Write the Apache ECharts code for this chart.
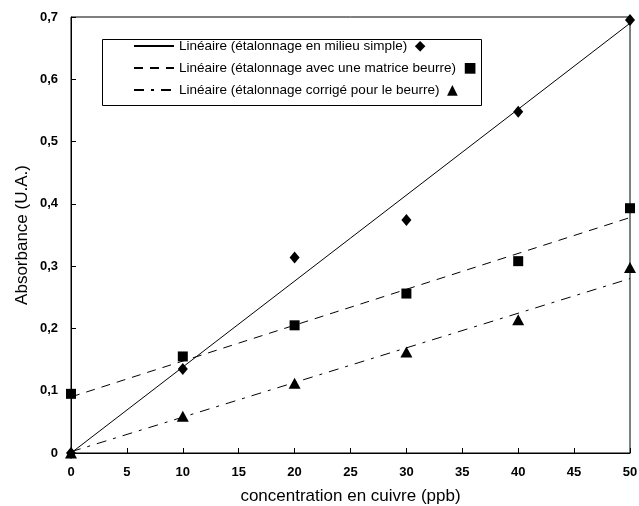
<!DOCTYPE html>
<html>
<head>
<meta charset="utf-8">
<script src="https://cdn.jsdelivr.net/npm/echarts@6/dist/echarts.min.js"></script>
<style>
  html, body { margin: 0; padding: 0; background: #fff; }
  #chart { width: 639px; height: 506px; }
</style>
</head>
<body>
<div id="chart"></div>
<script>
// concentrations (ppb)
const concentrations = [0, 10, 20, 30, 40, 50];
// mesures
const absSimple = [0, 0.135, 0.314, 0.374, 0.548, 0.695];
const absBeurre = [0.095, 0.155, 0.205, 0.256, 0.308, 0.393];
const absCorrige = [0, 0.059, 0.112, 0.162, 0.214, 0.298];
// droites de régression (extrémités)
const fitSimple = [[0, 0], [50, 0.69]];
const fitBeurre = [[0, 0.09], [50, 0.378]];
const fitCorrige = [[0, 0.002], [50, 0.28]];

const names = [
  "Linéaire (étalonnage en milieu simple)",
  "Linéaire (étalonnage avec une matrice beurre)",
  "Linéaire (étalonnage corrigé pour le beurre)",
];
const markerChars = { [names[0]]: "◆", [names[1]]: "■", [names[2]]: "▲" };

const pts = (ys) => concentrations.map((x, i) => [x, ys[i]]);

const chart = echarts.init(document.getElementById("chart"));
const font = "'Liberation Sans', Arial, sans-serif";

chart.setOption({
  animation: false,
  textStyle: { fontFamily: font, color: "#000" },
  grid: {
    left: 71,
    right: 9,
    top: 17,
    bottom: 53,
    outerBoundsMode: "none",
    show: true,
    borderColor: "#000",
    borderWidth: 1,
  },
  legend: {
    data: names,
    orient: "vertical",
    left: 133,
    top: 39,
    padding: 0,
    itemWidth: 40,
    itemHeight: 14,
    itemGap: 8,
    itemStyle: { opacity: 0 },
    textStyle: {
      fontFamily: font,
      fontSize: 13.5,
      color: "#000",
      rich: {
        m: { fontSize: 14, fontFamily: "'DejaVu Sans', sans-serif", color: "#000" },
      },
    },
    formatter: (name) => name + "  {m|" + markerChars[name] + "}",
  },
  graphic: [
    {
      type: "rect",
      left: 100,
      top: 37,
      shape: { width: 379, height: 66 },
      style: { fill: "none", stroke: "#000", lineWidth: 1 },
      z: 10,
    },
  ],
  xAxis: {
    type: "value",
    min: 0,
    max: 50,
    interval: 5,
    name: "concentration en cuivre (ppb)",
    nameLocation: "middle",
    nameGap: 35,
    nameMoveOverlap: false,
    nameTextStyle: { fontSize: 17, color: "#000", fontFamily: font },
    axisLine: { lineStyle: { color: "#000", width: 1 } },
    axisTick: { inside: true, length: 5, lineStyle: { color: "#000" } },
    axisLabel: { color: "#000", fontSize: 13, fontWeight: "bold", margin: 13 },
    splitLine: { show: false },
  },
  yAxis: {
    type: "value",
    min: 0,
    max: 0.7,
    interval: 0.1,
    name: "Absorbance (U.A.)",
    nameLocation: "middle",
    nameGap: 40,
    nameMoveOverlap: false,
    nameTextStyle: { fontSize: 17, color: "#000", fontFamily: font },
    axisLine: { show: true, lineStyle: { color: "#000", width: 1 } },
    axisTick: { show: true, inside: true, length: 5, lineStyle: { color: "#000" } },
    axisLabel: {
      color: "#000",
      fontSize: 13,
      fontWeight: "bold",
      margin: 13,
      formatter: (v) => String(Math.round(v * 10) / 10).replace(".", ","),
    },
    splitLine: { show: false },
  },
  series: [
    {
      name: names[0],
      type: "line",
      data: fitSimple,
      symbol: "none",
      lineStyle: { color: "#000", width: 1, type: "solid" },
    },
    {
      name: names[1],
      type: "line",
      data: fitBeurre,
      symbol: "none",
      lineStyle: { color: "#000", width: 1, type: [9, 7] },
    },
    {
      name: names[2],
      type: "line",
      data: fitCorrige,
      symbol: "none",
      lineStyle: { color: "#000", width: 1, type: [10, 7, 3, 7] },
    },
    {
      name: names[0],
      type: "scatter",
      data: pts(absSimple),
      symbol: "diamond",
      symbolSize: [10, 12],
      itemStyle: { color: "#000", opacity: 1 },
      z: 5,
    },
    {
      name: names[1],
      type: "scatter",
      data: pts(absBeurre),
      symbol: "rect",
      symbolSize: 10,
      itemStyle: { color: "#000", opacity: 1 },
      z: 5,
    },
    {
      name: names[2],
      type: "scatter",
      data: pts(absCorrige),
      symbol: "triangle",
      symbolSize: [12, 11],
      itemStyle: { color: "#000", opacity: 1 },
      z: 5,
    },
  ],
});
</script>
</body>
</html>
